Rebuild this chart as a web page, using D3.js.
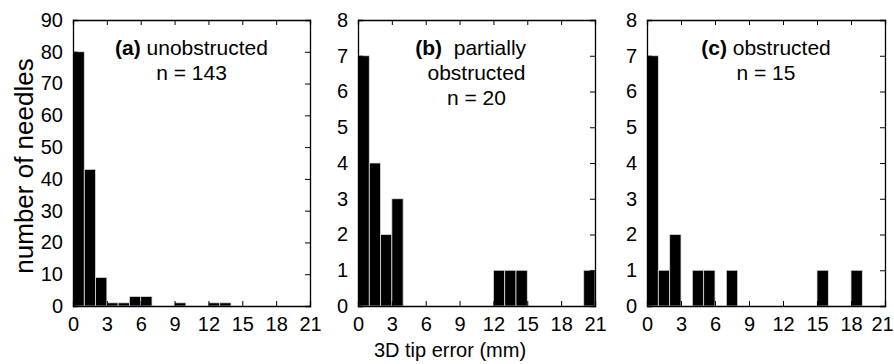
<!DOCTYPE html>
<html><head><meta charset="utf-8">
<script src="https://cdn.jsdelivr.net/npm/d3@7"></script>
<style>body{margin:0;background:#fff}text{font-family:"Liberation Sans",Arial,sans-serif;fill:#000;white-space:pre}</style>
</head><body><svg id="c" width="894" height="364"></svg>
<script>
// bin edges (mm), 1 mm bins from 0 to 21
const binStarts = d3.range(0, 21);
const countsA = [80,43,9,1,1,3,3,0,0,1,0,0,1,1,0,0,0,0,0,0,0];
const countsB = [7,4,2,3,0,0,0,0,0,0,0,0,1,1,1,0,0,0,0,0,1];
const countsC = [7,1,2,0,1,1,0,1,0,0,0,0,0,0,0,1,0,0,1,0,0];
const xTicks = [0,3,6,9,12,15,18,21];
const yTicksA = d3.range(0, 91, 10);
const yTicksBC = d3.range(0, 9, 1);
const titleA = [["(a)", " unobstructed"], ["", "n = 143"]];
const titleB = [["(b)", "  partially  "], ["", "obstructed"], ["", "n = 20"]];
const titleC = [["(c)", " obstructed"], ["", "n = 15"]];

const svg = d3.select("#c");
const plotTop = 20, plotBottom = 306;
const panels = [
  {x0:73, x1:310, counts:countsA, ymax:90, yt:yTicksA, title:titleA},
  {x0:358, x1:595, counts:countsB, ymax:8, yt:yTicksBC, title:titleB},
  {x0:647, x1:885, counts:countsC, ymax:8, yt:yTicksBC, title:titleC}
];
panels.forEach((p, pi) => {
  const x = d3.scaleLinear().domain([0,21]).range([p.x0,p.x1]);
  const y = d3.scaleLinear().domain([0,p.ymax]).range([plotBottom,plotTop]);
  const g = svg.append("g");
  g.selectAll("rect.bar").data(binStarts.filter(b => p.counts[b] > 0)).join("rect")
    .attr("x", b => x(b)).attr("width", b => x(b+1)-x(b))
    .attr("y", b => y(p.counts[b])).attr("height", b => y(0)-y(p.counts[b]))
    .attr("fill","#000").attr("stroke","#ddd").attr("stroke-width",0.8);
  const tl = 5;
  const axB = d3.axisBottom(x).tickValues(xTicks).tickSize(-tl).tickPadding(11);
  const axT = d3.axisTop(x).tickValues(xTicks).tickSize(-tl).tickFormat("");
  const axL = d3.axisLeft(y).tickValues(p.yt).tickSize(-tl).tickPadding(10);
  const axR = d3.axisRight(y).tickValues(p.yt).tickSize(-tl).tickFormat("");
  [[axB,`translate(0,${plotBottom})`,"b"],[axT,`translate(0,${plotTop})`,"t"],[axL,`translate(${p.x0},0)`,"l"],[axR,`translate(${p.x1},0)`,"r"]].forEach(([a,t,k]) => {
    const ag = g.append("g").attr("transform",t).call(a);
    ag.select(".domain").attr("stroke","#000").attr("stroke-width",1.3);
    ag.selectAll(".tick line").attr("stroke","#000").attr("stroke-width",1);
    ag.selectAll(".tick text").style("font-size","20px").attr("fill","#000");
    if (k === "b" && pi === 2) ag.selectAll(".tick text").filter(d => d === 21).attr("dx", -3);
  });
  const cx = (p.x0+p.x1)/2;
  p.title.forEach((ln,i) => {
    const t = g.append("text").attr("x",cx).attr("y",55+i*25).attr("text-anchor","middle").style("font-size","21px");
    if (ln[0]) t.append("tspan").attr("font-weight","bold").text(ln[0]);
    t.append("tspan").text(ln[1]);
  });
});
svg.append("text").attr("transform","translate(33,166) rotate(-90)").attr("text-anchor","middle").style("font-size","26px").text("number of needles");
svg.append("text").attr("x",450).attr("y",357).attr("text-anchor","middle").style("font-size","20px").text("3D tip error (mm)");
</script></body></html>
